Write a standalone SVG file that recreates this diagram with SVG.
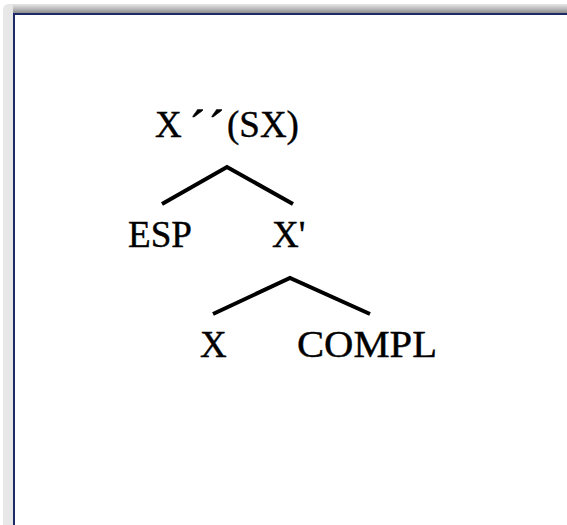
<svg xmlns="http://www.w3.org/2000/svg" width="567" height="525" viewBox="0 0 567 525">
  <defs>
    <linearGradient id="bandV" x1="0" y1="0" x2="1" y2="0">
      <stop offset="0" stop-color="#e8e8e8"/>
      <stop offset="0.5" stop-color="#bcbcbc"/>
      <stop offset="1" stop-color="#8e8e8e"/>
    </linearGradient>
    <linearGradient id="bandH" x1="0" y1="0" x2="0" y2="1">
      <stop offset="0" stop-color="#e8e8e8"/>
      <stop offset="0.5" stop-color="#bcbcbc"/>
      <stop offset="1" stop-color="#8e8e8e"/>
    </linearGradient>
  </defs>
  <style>
    .t { font-family: "Liberation Serif", "Times New Roman", serif; font-size: 37px; fill: #000; stroke: #000; stroke-width: 0.4; }
    .a { font-size: 50px; }
    .e { fill: none; stroke: #000; stroke-width: 4; stroke-linejoin: miter; stroke-linecap: butt; }
  </style>
  <rect x="0" y="0" width="567" height="525" fill="#fff"/>
  <g id="frame">
    <path d="M3 525 L3 10 Q3 4 9 4 L567 4 L567 13 L13 13 L13 525 Z" fill="url(#bandV)"/>
    <rect x="13" y="4" width="554" height="9" fill="url(#bandH)"/>
    <rect x="13" y="13" width="554" height="2" fill="#1c2a66"/>
    <rect x="13" y="13" width="2" height="512" fill="#1c2a66"/>
  </g>
  <g id="edges">
    <polyline class="e" points="162,204 227,167 293,204"/>
    <polyline class="e" points="213,314 290,278 370,314"/>
  </g>
  <g id="node-root">
    <text class="t" y="137"><tspan x="155">X</tspan><tspan class="a" x="189" y="145">´</tspan><tspan class="a" x="208" y="145">´</tspan><tspan x="227" y="137">(SX)</tspan></text>
  </g>
  <g id="node-esp">
    <text class="t" x="128" y="247" textLength="64" lengthAdjust="spacingAndGlyphs">ESP</text>
  </g>
  <g id="node-xbar">
    <text class="t" x="272" y="247">X'</text>
  </g>
  <g id="node-x">
    <text class="t" x="200" y="357">X</text>
  </g>
  <g id="node-compl">
    <text class="t" x="297" y="357" textLength="140" lengthAdjust="spacingAndGlyphs">COMPL</text>
  </g>
</svg>
